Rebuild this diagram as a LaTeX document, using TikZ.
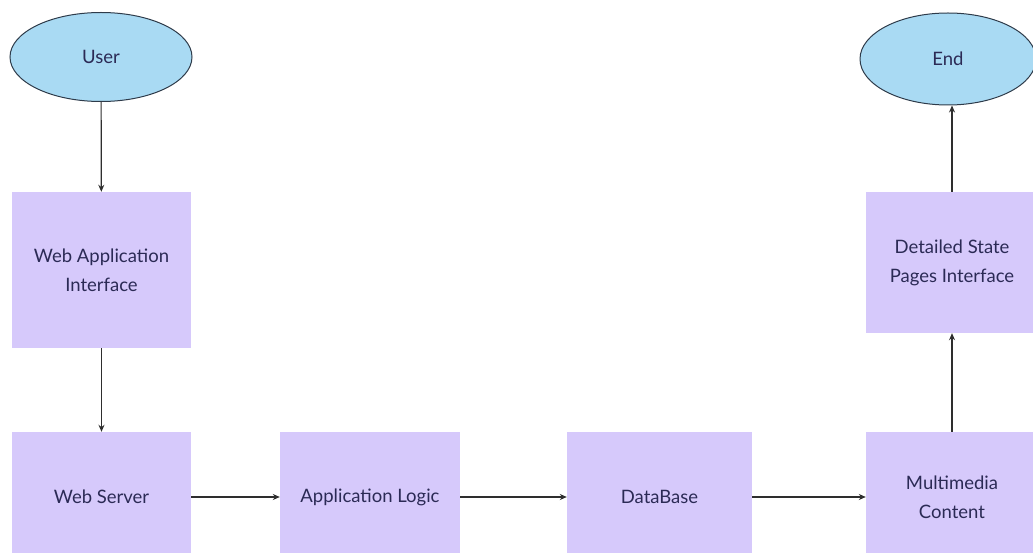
\documentclass[tikz,border=0pt]{standalone}
\usepackage{fontspec}
\setmainfont{Lato}
\usetikzlibrary{shapes.geometric,arrows.meta}
\definecolor{boxfill}{HTML}{D6C9FB}
\definecolor{ellfill}{HTML}{A9DAF3}
\definecolor{ellline}{HTML}{2E3B4A}
\definecolor{txt}{HTML}{2B2A55}
\definecolor{arr}{HTML}{2E2E2E}
\tikzset{
  procbox/.style={rectangle, fill=boxfill, draw=none, inner sep=0pt, align=center, text=txt, font=\fontsize{18.5}{29}\selectfont},
  term/.style={ellipse, fill=ellfill, draw=ellline, line width=1pt, inner sep=0pt, text=txt, font=\fontsize{18.5}{29}\selectfont},
  flow/.style={draw=arr, line width=1.2pt, -{Stealth[length=7pt,width=6pt]}}
}
\begin{document}
\begin{tikzpicture}[x=1pt,y=-1pt]
\useasboundingbox (0,0) rectangle (1033,553);
\node[term, minimum width=182pt, minimum height=89pt] (user) at (101,57) {User};
\node[term, minimum width=176pt, minimum height=92pt] (end) at (948,59) {End};
\node[procbox, minimum width=179pt, minimum height=156pt] (wai) at (101.5,270) {Web Application\\Interface};
\node[procbox, minimum width=179pt, minimum height=130pt] (ws) at (101.5,497) {Web Server};
\node[procbox, minimum width=180pt, minimum height=130pt] (al) at (370,497) {Application Logic};
\node[procbox, minimum width=185pt, minimum height=130pt] (db) at (659.5,497) {DataBase};
\node[procbox, minimum width=172pt, minimum height=130pt] (mm) at (952,497) {Multimedia\\Content};
\node[procbox, minimum width=172pt, minimum height=141pt] (ds) at (952,262.5) {Detailed State\\Pages Interface};
\draw[flow] (user) -- (wai);
\draw[flow] (wai) -- (ws);
\draw[flow] (ws) -- (al);
\draw[flow] (al) -- (db);
\draw[flow] (db) -- (mm);
\draw[flow] (mm) -- (ds);
\draw[flow] (ds.north) -- (ds.north |- end.south);
\end{tikzpicture}
\end{document}
